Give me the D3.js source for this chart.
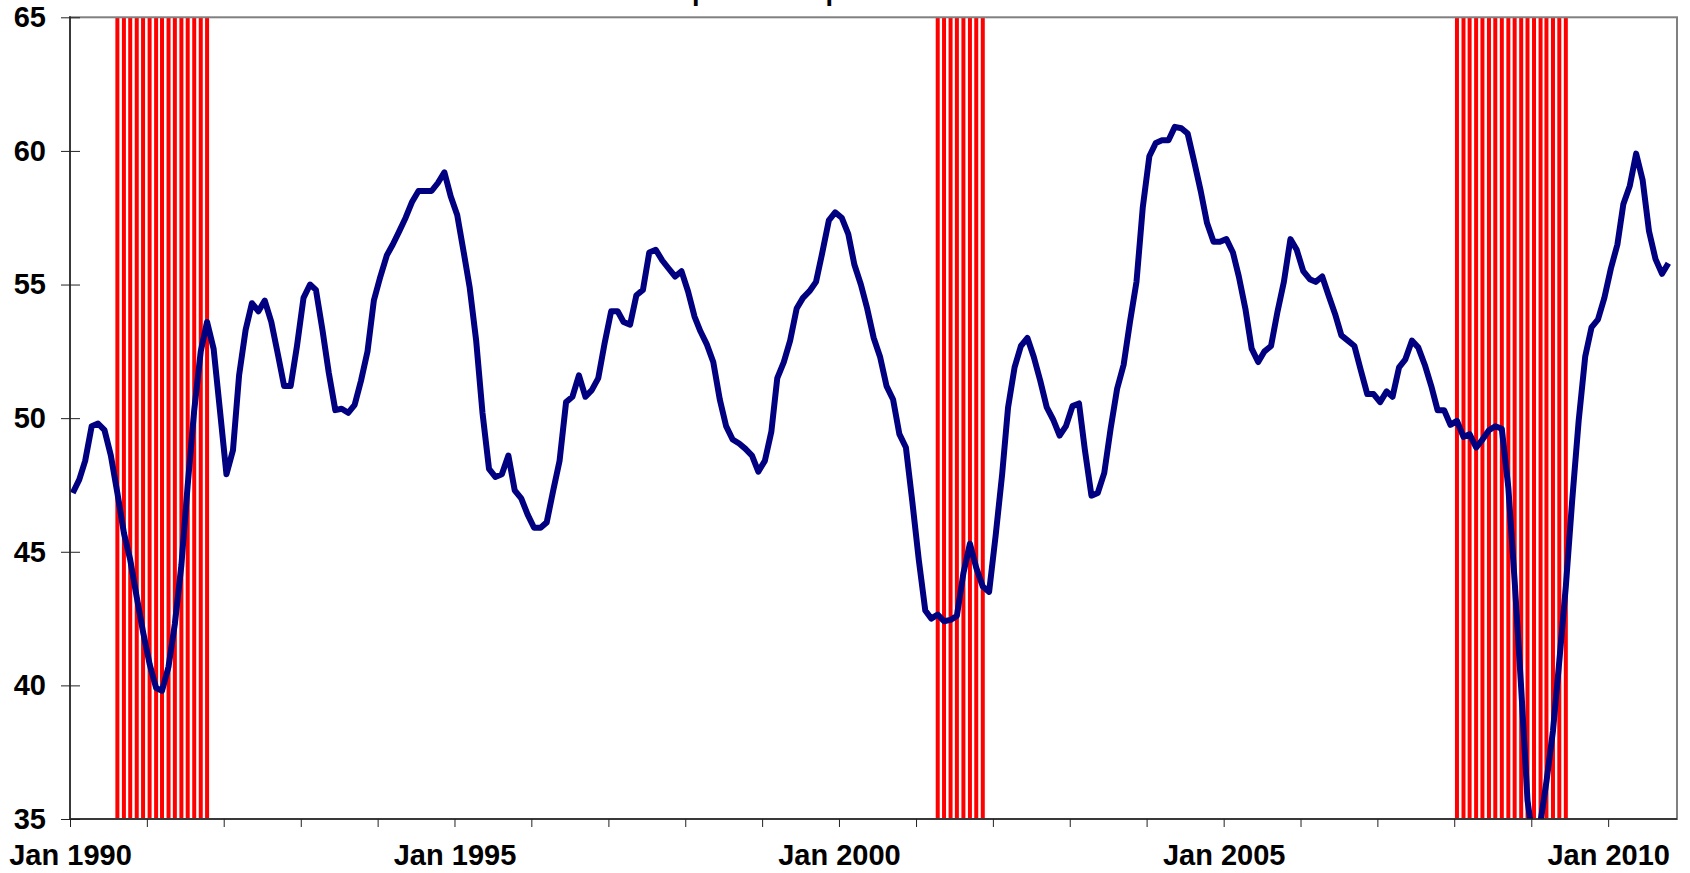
<!DOCTYPE html>
<html>
<head>
<meta charset="utf-8">
<script src="https://cdn.jsdelivr.net/npm/d3@7"></script>
<style>
  body { margin: 0; background: #fff; }
  text { font-family: "Liberation Sans", Arial, sans-serif; font-weight: bold; fill: #000; }
</style>
</head>
<body>
<script>
//chart title (mostly above the visible area in the source)
var title = "Composite Output Index";

//monthly index values, Jan 1990 - Oct 2010 (one line per year)
var index = [
  47.2, 47.7, 48.4, 49.7, 49.8, 49.55, 48.6, 47.2, 45.7, 44.7, 43.3, 42.0,
  40.8, 39.9, 39.8, 40.7, 42.3, 44.5, 47.5, 50.3, 52.5, 53.6, 52.6, 50.3,
  47.9, 48.8, 51.6, 53.3, 54.3, 54.0, 54.4, 53.6, 52.4, 51.2, 51.2, 52.7,
  54.5, 55.0, 54.8, 53.3, 51.7, 50.3, 50.35, 50.2, 50.5, 51.4, 52.5, 54.4,
  55.3, 56.1, 56.5, 57.0, 57.5, 58.1, 58.5, 58.5, 58.5, 58.8, 59.2, 58.3,
  57.6, 56.2, 54.9, 52.9, 50.2, 48.1, 47.8, 47.9, 48.6, 47.3, 47.0, 46.4,
  45.9, 45.9, 46.1, 47.3, 48.4, 50.6, 50.8, 51.6, 50.8, 51.05, 51.5, 52.8,
  54.0, 54.0, 53.6, 53.5, 54.6, 54.8, 56.2, 56.3, 55.9, 55.6, 55.3, 55.5,
  54.75, 53.8, 53.25, 52.75, 52.1, 50.7, 49.7, 49.2, 49.05, 48.85, 48.6, 48.0,
  48.4, 49.5, 51.5, 52.1, 52.9, 54.1, 54.5, 54.75, 55.1, 56.2, 57.4, 57.7,
  57.5, 56.9, 55.75, 55.0, 54.1, 53.0, 52.3, 51.2, 50.7, 49.4, 48.9, 46.9,
  44.7, 42.8, 42.5, 42.65, 42.4, 42.45, 42.6, 44.2, 45.3, 44.4, 43.7, 43.5,
  45.6, 47.9, 50.4, 51.9, 52.7, 53.0, 52.3, 51.4, 50.4, 49.95, 49.35, 49.7,
  50.45, 50.55, 48.8, 47.1, 47.2, 47.95, 49.6, 51.1, 52.0, 53.6, 55.1, 57.9,
  59.8, 60.3, 60.4, 60.4, 60.9, 60.85, 60.65, 59.6, 58.5, 57.3, 56.6, 56.6,
  56.7, 56.2, 55.3, 54.1, 52.6, 52.1, 52.5, 52.7, 54.0, 55.1, 56.7, 56.3,
  55.5, 55.2, 55.1, 55.3, 54.6, 53.9, 53.1, 52.9, 52.7, 51.8, 50.9, 50.9,
  50.6, 51.0, 50.8, 51.9, 52.2, 52.9, 52.65, 52.0, 51.2, 50.3, 50.3, 49.75,
  49.9, 49.3, 49.4, 48.9, 49.2, 49.55, 49.7, 49.6, 47.4, 43.9, 39.9, 35.7,
  33.9, 34.9, 36.4, 38.3, 40.9, 43.7, 46.9, 49.9, 52.3, 53.4, 53.7, 54.5,
  55.6, 56.5, 58.0, 58.7, 59.9, 58.9, 57.0, 55.95, 55.4, 55.8
];

//recession months (shaded)
var recessionStart = ["1990-08", "2001-04", "2008-01"];
var recessionEnd   = ["1991-10", "2001-11", "2009-06"];

//axis ticks and labels
var yTicks = [35, 40, 45, 50, 55, 60, 65];
var xLabels = ["Jan 1990", "Jan 1995", "Jan 2000", "Jan 2005", "Jan 2010"];
var xLabelYears = [1990, 1995, 2000, 2005, 2010];

//create svg
var svg = d3.select("body").append("svg")
    .attr("width", 1690)
    .attr("height", 873);

//plot area
var plotLeft = 70, plotRight = 1677, plotTop = 17.3, plotBottom = 819;

var parseMonth = d3.timeParse("%Y-%m");
var start = new Date(1990, 0, 1);

var x = d3.scaleTime()
    .domain([start, new Date(2010, 10, 24)])
    .range([plotLeft, plotRight]);

var y = d3.scaleLinear()
    .domain([35, 65])
    .range([plotBottom, plotTop]);

//one point per month, placed mid-month
var data = index.map(function(v, i) {
    return {date: d3.timeDay.offset(d3.timeMonth.offset(start, i), 13), value: v};
});

//recession stripes, one per month
var stripes = [];
recessionStart.forEach(function(s, i) {
    d3.timeMonth.range(parseMonth(s), d3.timeMonth.offset(parseMonth(recessionEnd[i]), 1))
        .forEach(function(m) { stripes.push(d3.timeDay.offset(m, 13)); });
});

svg.append("defs").append("clipPath")
    .attr("id", "plot")
  .append("rect")
    .attr("x", plotLeft)
    .attr("y", plotTop)
    .attr("width", plotRight - plotLeft)
    .attr("height", plotBottom - plotTop);

svg.append("g")
  .selectAll("rect")
  .data(stripes)
  .enter().append("rect")
    .attr("x", function(d) { return x(d) - 2; })
    .attr("y", y(65))
    .attr("width", 4)
    .attr("height", y(35) - y(65))
    .attr("fill", "#ff0000");

//plot border (top and right are grey)
svg.append("rect")
    .attr("x", plotLeft)
    .attr("y", plotTop)
    .attr("width", plotRight - plotLeft)
    .attr("height", plotBottom - plotTop)
    .attr("fill", "none")
    .attr("stroke", "#808080")
    .attr("stroke-width", 2);

//the line
var line = d3.line()
    .x(function(d) { return x(d.date); })
    .y(function(d) { return y(d.value); });

svg.append("path")
    .datum(data)
    .attr("clip-path", "url(#plot)")
    .attr("fill", "none")
    .attr("stroke", "#000080")
    .attr("stroke-width", 6)
    .attr("stroke-linejoin", "round")
    .attr("d", line);

// add y-axis
var yAxis = svg.append("g")
    .attr("transform", "translate(" + plotLeft + ",0)")
    .call(d3.axisLeft(y).tickValues(yTicks).tickSize(9).tickPadding(15));
yAxis.select(".domain").remove();
yAxis.selectAll(".tick line").attr("x1", 10).attr("stroke", "#222");
yAxis.selectAll("text").attr("font-size", 29).attr("font-family", null);
yAxis.append("line")
    .attr("y1", plotTop - 1).attr("y2", plotBottom)
    .attr("stroke", "#222").attr("stroke-width", 1.5);

// add x-axis
var yearTicks = d3.timeYear.range(start, new Date(2010, 1, 1));
var xAxis = svg.append("g")
    .attr("transform", "translate(0," + plotBottom + ")")
    .call(d3.axisBottom(x).tickValues(yearTicks).tickSize(8).tickPadding(17)
        .tickFormat(function(d) {
            var i = xLabelYears.indexOf(d.getFullYear());
            return i < 0 ? "" : xLabels[i];
        }));
xAxis.select(".domain").remove();
xAxis.selectAll(".tick line").attr("stroke", "#222");
xAxis.selectAll("text").attr("font-size", 29).attr("font-family", null);
xAxis.append("line")
    .attr("x1", plotLeft).attr("x2", plotRight)
    .attr("stroke", "#222").attr("stroke-width", 1.5);

//add title
svg.append("text")
    .attr("x", 632)
    .attr("y", 0)
    .attr("font-size", 27)
    .text(title);
</script>
</body>
</html>
